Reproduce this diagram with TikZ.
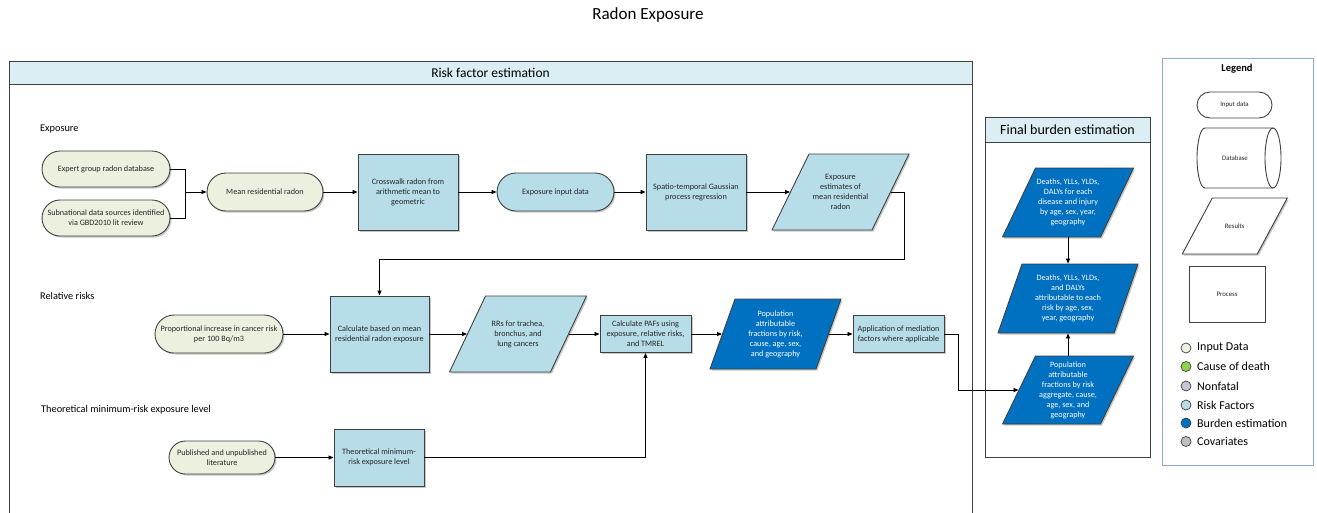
\documentclass[tikz,border=0pt]{standalone}
\usepackage{fontspec}
\setmainfont{Carlito}
\usetikzlibrary{arrows.meta,calc,shadows}

\definecolor{inputfill}{HTML}{EBF1DE}
\definecolor{riskfill}{HTML}{B7DDE8}
\definecolor{burdenfill}{HTML}{0070C0}
\definecolor{headfill}{HTML}{DAEEF3}
\definecolor{edge}{HTML}{404040}
\definecolor{legendedge}{HTML}{8EA9D8}
\definecolor{causefill}{HTML}{92D050}
\definecolor{nonfatalfill}{HTML}{CCC0DA}
\definecolor{covfill}{HTML}{BFBFBF}

\tikzset{
  softshadow/.style={drop shadow={shadow xshift=1.5pt, shadow yshift=-1.5pt, opacity=0.22, fill=black}},
  box/.style={draw=edge, line width=0.9pt, align=center, inner sep=0pt,
    font=\fontsize{8.2}{10}\selectfont, text=black!85},
  inbox/.style={box, softshadow, fill=inputfill, rounded corners=#1},
  rfstadium/.style={box, softshadow, fill=riskfill, rounded corners=#1},
  rfbox/.style={box, softshadow, fill=riskfill},
  rfpara/.style={box, fill=riskfill},
  bdpara/.style={box, fill=burdenfill, text=white},
  lgbox/.style={box, fill=white, font=\fontsize{6.8}{8}\selectfont},
  arr/.style={draw=black, line width=0.8pt, -{Triangle[length=5pt,width=4pt]}},
  plain/.style={draw=black, line width=0.8pt},
  frame/.style={draw=edge, line width=1pt},
  sectlabel/.style={anchor=west, inner sep=0pt, font=\fontsize{10.3}{12}\selectfont},
  legdot/.style={circle, draw=edge, line width=0.7pt, minimum size=10pt, inner sep=0pt},
  legtext/.style={anchor=west, inner sep=0pt, font=\fontsize{12}{14}\selectfont},
}

% parallelogram: name, cx, cy, top width, height, slant, style, text
\newcommand\paranode[8]{%
  \path[#7, softshadow] ({#2-#4/2+#6/2},{#3-#5/2}) -- ({#2+#4/2+#6/2},{#3-#5/2})
    -- ({#2+#4/2-#6/2},{#3+#5/2}) -- ({#2-#4/2-#6/2},{#3+#5/2}) -- cycle;
  \node[#7, draw=none, fill=none, minimum width=#4pt, minimum height=#5pt] (#1) at (#2,#3) {#8};
}

\begin{document}
\begin{tikzpicture}[x=1pt, y=-1pt]
\useasboundingbox (0,0) rectangle (1317,512);

\node[font=\fontsize{17}{20}\selectfont] (title) at (648,15) {Radon Exposure};

% ---------- Risk factor estimation panel ----------
\draw[frame] (9,61) rectangle (972,540);
\draw[frame, fill=headfill] (9,61) rectangle (972,84);
\node[font=\fontsize{13.5}{15}\selectfont] (rfhead) at (490.5,72.5) {Risk factor estimation};

\node[sectlabel] (lblexp) at (40,129) {Exposure};
\node[sectlabel] (lblrr) at (40,296) {Relative risks};
\node[sectlabel] (lbltm) at (41,410) {Theoretical minimum-risk exposure level};

% exposure row
\node[inbox=18pt, minimum width=128pt, minimum height=36pt] (expert) at (106,169) {Expert group radon database};
\node[inbox=18pt, minimum width=128pt, minimum height=36pt] (subnat) at (106,218) {Subnational data sources identified\\via GBD2010 lit review};
\node[inbox=19pt, minimum width=116pt, minimum height=38pt] (mean) at (265,192) {Mean residential radon};
\node[rfbox, minimum width=100pt, minimum height=76pt] (cross) at (408,192) {Crosswalk radon from\\arithmetic mean to\\geometric};
\node[rfstadium=19pt, minimum width=117pt, minimum height=38pt] (expin) at (555.5,192) {Exposure input data};
\node[rfbox, minimum width=100pt, minimum height=76pt] (stgpr) at (696,192) {Spatio-temporal Gaussian\\process regression};
\paranode{est}{840.5}{192}{100}{76}{37}{rfpara}{Exposure\\estimates of\\mean residential\\radon}

% relative risk row
\node[inbox=19pt, minimum width=128pt, minimum height=38pt] (prop) at (219,334) {Proportional increase in cancer risk\\per 100 Bq/m3};
\node[rfbox, minimum width=99pt, minimum height=76pt] (calc) at (379.5,334) {Calculate based on mean\\residential radon exposure};
\paranode{rr}{518}{334}{101}{76}{36}{rfpara}{RRs for trachea,\\bronchus, and\\lung cancers}
\node[rfbox, minimum width=91pt, minimum height=37pt] (paf) at (645.5,334) {Calculate PAFs using\\exposure, relative risks,\\and TMREL};
\paranode{pop}{775.5}{334}{106}{70}{25}{bdpara}{Population\\attributable\\fractions by risk,\\cause, age, sex,\\and geography}
\node[rfbox, minimum width=91pt, minimum height=37pt] (app) at (898.5,334) {Application of mediation\\factors where applicable};

% TMREL row
\node[inbox=16.5pt, minimum width=106pt, minimum height=33pt] (pub) at (222,457.5) {Published and unpublished\\literature};
\node[rfbox, minimum width=90pt, minimum height=57pt] (tmrel) at (379,457.5) {Theoretical minimum-\\risk exposure level};

% ---------- Final burden estimation panel ----------
\draw[frame] (985,117) rectangle (1150,457);
\draw[frame, fill=headfill] (985,117) rectangle (1150,142);
\node[font=\fontsize{14}{16}\selectfont] (fbhead) at (1067.5,129.5) {Final burden estimation};

\paranode{fd1}{1068}{202.5}{98}{69}{33}{bdpara}{Deaths, YLLs, YLDs,\\DALYs for each\\disease and injury\\by age, sex, year,\\geography}
\paranode{fd2}{1068}{298.5}{116}{69}{24}{bdpara}{Deaths, YLLs, YLDs,\\and DALYs\\attributable to each\\risk by age, sex,\\year, geography}
\paranode{fpop}{1068}{390}{98}{68}{33}{bdpara}{Population\\attributable\\fractions by risk\\aggregate, cause,\\age, sex, and\\geography}

% ---------- connectors ----------
\coordinate (join) at (185,192);
\draw[plain] (expert.east) -| (join);
\draw[plain] (subnat.east) -| (join);
\draw[arr] (join) -- (mean.west);
\draw[arr] (mean) -- (cross);
\draw[arr] (cross) -- (expin);
\draw[arr] (expin) -- (stgpr);
\draw[arr] (stgpr) -- (est);
\coordinate (estturn) at (904,259);
\draw[arr] (est.east) -| (estturn) -| (calc.north);

\draw[arr] (prop) -- (calc);
\draw[arr] (calc) -- (rr);
\draw[arr] (rr) -- (paf);
\draw[arr] (paf) -- (pop);
\draw[arr] (pop) -- (app);
\draw[arr] (pub) -- (tmrel);
\draw[arr] (tmrel.east) -| (paf.south);

\coordinate (appturn) at (958,390);
\draw[arr] (app.east) -| (appturn) -- (fpop.west);
\draw[arr] (fd1.south) -- (fd2.north);
\draw[arr] (fpop.north) -- (fd2.south);

% ---------- Legend ----------
\draw[draw=legendedge, line width=0.9pt] (1162,58) rectangle (1313,465);
\node[font=\bfseries\fontsize{10.5}{12}\selectfont] (legtitle) at (1237,69) {Legend};
\node[lgbox, rounded corners=13pt, minimum width=75pt, minimum height=26pt] (lginput) at (1234.5,105) {Input data};
% database symbol: horizontal cylinder with its open end on the right
\draw[draw=edge, line width=0.9pt, fill=white]
  (1273,128) -- (1205,128) arc[start angle=90, end angle=270, x radius=8pt, y radius=30pt]
  -- (1273,188) arc[start angle=270, end angle=450, x radius=8pt, y radius=30pt];
\draw[draw=edge, line width=0.9pt] (1273,128) arc[start angle=90, end angle=270, x radius=8pt, y radius=30pt];
\node[font=\fontsize{6.8}{8}\selectfont, text=black!85] (lgdb) at (1235,158) {Database};
\paranode{lgres}{1234.75}{226}{75}{56}{30}{lgbox}{Results}
\node[lgbox, minimum width=76pt, minimum height=56pt] (lgproc) at (1227,294) {Process};

\node[legdot, fill=inputfill] (d1) at (1186,348) {};
\node[legtext] (t1) at (1197,348) {Input Data};
\node[legdot, fill=causefill] (d2) at (1186,366.5) {};
\node[legtext] (t2) at (1197,366.5) {Cause of death};
\node[legdot, fill=nonfatalfill] (d3) at (1186,386) {};
\node[legtext] (t3) at (1197,386) {Nonfatal};
\node[legdot, fill=riskfill] (d4) at (1186,405) {};
\node[legtext] (t4) at (1197,405) {Risk Factors};
\node[legdot, fill=burdenfill] (d5) at (1186,423) {};
\node[legtext] (t5) at (1197,423) {Burden estimation};
\node[legdot, fill=covfill] (d6) at (1186,441.5) {};
\node[legtext] (t6) at (1197,441.5) {Covariates};

\end{tikzpicture}
\end{document}
